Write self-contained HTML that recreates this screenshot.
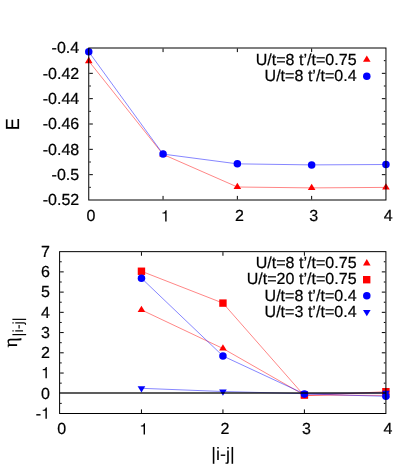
<!DOCTYPE html><html><head><meta charset="utf-8"><style>html,body{margin:0;padding:0;background:#fff}svg{display:block;will-change:transform}text{font-family:"Liberation Sans",sans-serif;font-size:16px;fill:#000;stroke:#000;stroke-width:0.22px;text-rendering:geometricPrecision}</style></head><body>
<svg width="415" height="465" viewBox="0 0 415 465">
<rect width="415" height="465" fill="#fff"/>
<path d="M163.05 199.5V195.9M163.05 48.5V52.1M237.35 199.5V195.9M237.35 48.5V52.1M311.65 199.5V195.9M311.65 48.5V52.1M89.25 60.67H90.85M385.45 60.67H383.84999999999997M89.25 73.33H92.85M385.45 73.33H381.84999999999997M89.25 86.00H90.85M385.45 86.00H383.84999999999997M89.25 98.67H92.85M385.45 98.67H381.84999999999997M89.25 111.33H90.85M385.45 111.33H383.84999999999997M89.25 124.00H92.85M385.45 124.00H381.84999999999997M89.25 136.67H90.85M385.45 136.67H383.84999999999997M89.25 149.33H92.85M385.45 149.33H381.84999999999997M89.25 162.00H90.85M385.45 162.00H383.84999999999997M89.25 174.67H92.85M385.45 174.67H381.84999999999997M89.25 187.33H90.85M385.45 187.33H383.84999999999997" stroke="#000" stroke-width="1.0" fill="none"/>
<polyline points="88.75,61.05 163.05,154.40 237.35,187.00 311.65,187.90 385.95,187.40" fill="none" stroke="#ff0000" stroke-width="0.48"/>
<polyline points="88.75,51.80 163.05,154.10 237.35,163.85 311.65,164.90 385.95,164.50" fill="none" stroke="#0000ff" stroke-width="0.48"/>
<path d="M88.75 56.85L92.55 63.15L84.95 63.15Z" fill="#ff0000"/>
<path d="M163.05 150.20L166.85 156.50L159.25 156.50Z" fill="#ff0000"/>
<path d="M237.35 182.80L241.15 189.10L233.55 189.10Z" fill="#ff0000"/>
<path d="M311.65 183.70L315.45 190.00L307.85 190.00Z" fill="#ff0000"/>
<path d="M385.95 183.20L389.75 189.50L382.15 189.50Z" fill="#ff0000"/>
<circle cx="88.75" cy="51.80" r="3.75" fill="#0000ff"/>
<circle cx="163.05" cy="154.10" r="3.75" fill="#0000ff"/>
<circle cx="237.35" cy="163.85" r="3.75" fill="#0000ff"/>
<circle cx="311.65" cy="164.90" r="3.75" fill="#0000ff"/>
<circle cx="385.95" cy="164.50" r="3.75" fill="#0000ff"/>
<path d="M366.80 55.40L370.60 61.70L363.00 61.70Z" fill="#ff0000"/>
<circle cx="366.80" cy="76.20" r="3.75" fill="#0000ff"/>
<text transform="matrix(1,0.0003,0,1,0,0)" x="356.60" y="64.69" text-anchor="end" letter-spacing="0.03">U/t=8 t’/t=0.75</text>
<text transform="matrix(1,0.0003,0,1,0,0)" x="356.60" y="81.04" text-anchor="end" letter-spacing="0.03">U/t=8 t’/t=0.4</text>
<rect x="88.75" y="48.0" width="297.20" height="152.00" fill="none" stroke="#000" stroke-width="1.0"/>
<text transform="matrix(1,0.0003,0,1,0,0)" x="79.20" y="53.48" text-anchor="end">-0.4</text>
<text transform="matrix(1,0.0003,0,1,0,0)" x="79.20" y="78.81" text-anchor="end">-0.42</text>
<text transform="matrix(1,0.0003,0,1,0,0)" x="79.20" y="104.14" text-anchor="end">-0.44</text>
<text transform="matrix(1,0.0003,0,1,0,0)" x="79.20" y="129.48" text-anchor="end">-0.46</text>
<text transform="matrix(1,0.0003,0,1,0,0)" x="79.20" y="154.81" text-anchor="end">-0.48</text>
<text transform="matrix(1,0.0003,0,1,0,0)" x="79.20" y="180.14" text-anchor="end">-0.5</text>
<text transform="matrix(1,0.0003,0,1,0,0)" x="79.20" y="205.48" text-anchor="end">-0.52</text>
<text transform="matrix(1,0.0003,0,1,0,0)" x="90.90" y="221.42" text-anchor="middle">0</text>
<path transform="translate(160.85,221.60) scale(16)" d="M0.272 0L0.272 -0.505L0.101 -0.505L0.101 -0.568C0.215 -0.568 0.275 -0.61 0.295 -0.709L0.359 -0.709L0.359 0Z" fill="#000"/>
<text transform="matrix(1,0.0003,0,1,0,0)" x="239.50" y="221.38" text-anchor="middle">2</text>
<text transform="matrix(1,0.0003,0,1,0,0)" x="313.80" y="221.36" text-anchor="middle">3</text>
<text transform="matrix(1,0.0003,0,1,0,0)" x="388.10" y="221.33" text-anchor="middle">4</text>
<text transform="translate(18.6,124.25) rotate(-90) matrix(1,0.0003,0,1.05,0,0)" text-anchor="middle" style="font-size:18px">E</text>
<path d="M141.45 413.0V409.4M141.45 252.15V255.75M222.95 413.0V409.4M222.95 252.15V255.75M304.40 413.0V409.4M304.40 252.15V255.75M60.1 261.77H61.7M385.4 261.77H383.79999999999995M60.1 271.88H63.7M385.4 271.88H381.79999999999995M60.1 282.00H61.7M385.4 282.00H383.79999999999995M60.1 292.11H63.7M385.4 292.11H381.79999999999995M60.1 302.23H61.7M385.4 302.23H383.79999999999995M60.1 312.34H63.7M385.4 312.34H381.79999999999995M60.1 322.46H61.7M385.4 322.46H383.79999999999995M60.1 332.57H63.7M385.4 332.57H381.79999999999995M60.1 342.69H61.7M385.4 342.69H383.79999999999995M60.1 352.81H63.7M385.4 352.81H381.79999999999995M60.1 362.92H61.7M385.4 362.92H383.79999999999995M60.1 373.04H63.7M385.4 373.04H381.79999999999995M60.1 383.15H61.7M385.4 383.15H383.79999999999995M60.1 403.38H61.7M385.4 403.38H383.79999999999995" stroke="#000" stroke-width="1.0" fill="none"/>
<polyline points="141.45,309.90 222.95,348.50 304.40,395.10 385.90,395.40" fill="none" stroke="#ff0000" stroke-width="0.48"/>
<polyline points="141.45,271.25 222.95,303.10 304.40,395.80 385.90,391.70" fill="none" stroke="#ff0000" stroke-width="0.48"/>
<polyline points="141.45,278.20 222.95,356.00 304.40,393.95 385.90,396.30" fill="none" stroke="#0000ff" stroke-width="0.48"/>
<polyline points="141.45,388.30 222.95,391.50 304.40,393.70 385.90,392.90" fill="none" stroke="#0000ff" stroke-width="0.48"/>
<path d="M141.45 305.70L145.25 312.00L137.65 312.00Z" fill="#ff0000"/>
<path d="M222.95 344.30L226.75 350.60L219.15 350.60Z" fill="#ff0000"/>
<path d="M304.40 390.90L308.20 397.20L300.60 397.20Z" fill="#ff0000"/>
<path d="M385.90 391.20L389.70 397.50L382.10 397.50Z" fill="#ff0000"/>
<rect x="137.75" y="267.55" width="7.4" height="7.4" fill="#ff0000"/>
<rect x="219.25" y="299.40" width="7.4" height="7.4" fill="#ff0000"/>
<rect x="300.70" y="391.40" width="7.4" height="7.4" fill="#ff0000"/>
<rect x="382.20" y="388.00" width="7.4" height="7.4" fill="#ff0000"/>
<circle cx="141.45" cy="278.20" r="3.75" fill="#0000ff"/>
<circle cx="222.95" cy="356.00" r="3.75" fill="#0000ff"/>
<circle cx="304.40" cy="393.95" r="3.75" fill="#0000ff"/>
<circle cx="385.90" cy="396.30" r="3.75" fill="#0000ff"/>
<path d="M141.45 392.50L145.25 386.20L137.65 386.20Z" fill="#0000ff"/>
<path d="M222.95 395.70L226.75 389.40L219.15 389.40Z" fill="#0000ff"/>
<path d="M304.40 397.90L308.20 391.60L300.60 391.60Z" fill="#0000ff"/>
<path d="M385.90 397.10L389.70 390.80L382.10 390.80Z" fill="#0000ff"/>
<path d="M366.80 259.10L370.60 265.40L363.00 265.40Z" fill="#ff0000"/>
<rect x="363.00" y="276.00" width="7.4" height="7.4" fill="#ff0000"/>
<circle cx="366.80" cy="295.70" r="3.75" fill="#0000ff"/>
<path d="M366.80 316.30L370.60 310.00L363.00 310.00Z" fill="#0000ff"/>
<text transform="matrix(1,0.0003,0,1,0,0)" x="356.60" y="267.94" text-anchor="end" letter-spacing="0.03">U/t=8 t’/t=0.75</text>
<text transform="matrix(1,0.0003,0,1,0,0)" x="356.60" y="284.29" text-anchor="end" letter-spacing="0.03">U/t=20 t’/t=0.75</text>
<text transform="matrix(1,0.0003,0,1,0,0)" x="356.60" y="300.64" text-anchor="end" letter-spacing="0.03">U/t=8 t’/t=0.4</text>
<text transform="matrix(1,0.0003,0,1,0,0)" x="356.60" y="316.99" text-anchor="end" letter-spacing="0.03">U/t=3 t’/t=0.4</text>
<rect x="59.6" y="251.65" width="326.30" height="161.85" fill="none" stroke="#000" stroke-width="1.0"/>
<path d="M59.6 393.1H385.9" stroke="#000" stroke-width="1.5" stroke-opacity="0.85" fill="none"/>
<text transform="matrix(1,0.0003,0,1,0,0)" x="50.00" y="256.88" text-anchor="end">7</text>
<text transform="matrix(1,0.0003,0,1,0,0)" x="50.00" y="277.12" text-anchor="end">6</text>
<text transform="matrix(1,0.0003,0,1,0,0)" x="50.00" y="297.35" text-anchor="end">5</text>
<text transform="matrix(1,0.0003,0,1,0,0)" x="50.00" y="317.58" text-anchor="end">4</text>
<text transform="matrix(1,0.0003,0,1,0,0)" x="50.00" y="337.81" text-anchor="end">3</text>
<text transform="matrix(1,0.0003,0,1,0,0)" x="50.00" y="358.04" text-anchor="end">2</text>
<path transform="translate(41.10,378.29) scale(16)" d="M0.272 0L0.272 -0.505L0.101 -0.505L0.101 -0.568C0.215 -0.568 0.275 -0.61 0.295 -0.709L0.359 -0.709L0.359 0Z" fill="#000"/>
<text transform="matrix(1,0.0003,0,1,0,0)" x="50.00" y="398.50" text-anchor="end">0</text>
<path transform="translate(41.10,418.75) scale(16)" d="M0.272 0L0.272 -0.505L0.101 -0.505L0.101 -0.568C0.215 -0.568 0.275 -0.61 0.295 -0.709L0.359 -0.709L0.359 0Z" fill="#000"/>
<text transform="matrix(1,0.0003,0,1,0,0)" x="41.10" y="418.74" text-anchor="end">-</text>
<text transform="matrix(1,0.0003,0,1,0,0)" x="61.60" y="434.38" text-anchor="middle">0</text>
<path transform="translate(139.25,434.60) scale(16)" d="M0.272 0L0.272 -0.505L0.101 -0.505L0.101 -0.568C0.215 -0.568 0.275 -0.61 0.295 -0.709L0.359 -0.709L0.359 0Z" fill="#000"/>
<text transform="matrix(1,0.0003,0,1,0,0)" x="224.95" y="434.33" text-anchor="middle">2</text>
<text transform="matrix(1,0.0003,0,1,0,0)" x="306.40" y="434.31" text-anchor="middle">3</text>
<text transform="matrix(1,0.0003,0,1,0,0)" x="387.90" y="434.28" text-anchor="middle">4</text>
<text transform="matrix(1,0.0003,0,1,0,0)" x="223.00" y="459.83" text-anchor="middle" style="font-size:18px;stroke-width:0.08px">|i-j|</text>
<g transform="translate(16.6,348.5) rotate(-90)"><text x="1.0" y="0" transform="matrix(1.08,0.0003,0,1.1,0,0)" style="font-family:'Liberation Serif',serif;font-size:18px">η</text><text x="12.1" y="6.5" transform="matrix(1,0.0003,0,1,0,0)" style="font-size:14.6px;stroke-width:0.05px">|i-j|</text></g>
</svg></body></html>
